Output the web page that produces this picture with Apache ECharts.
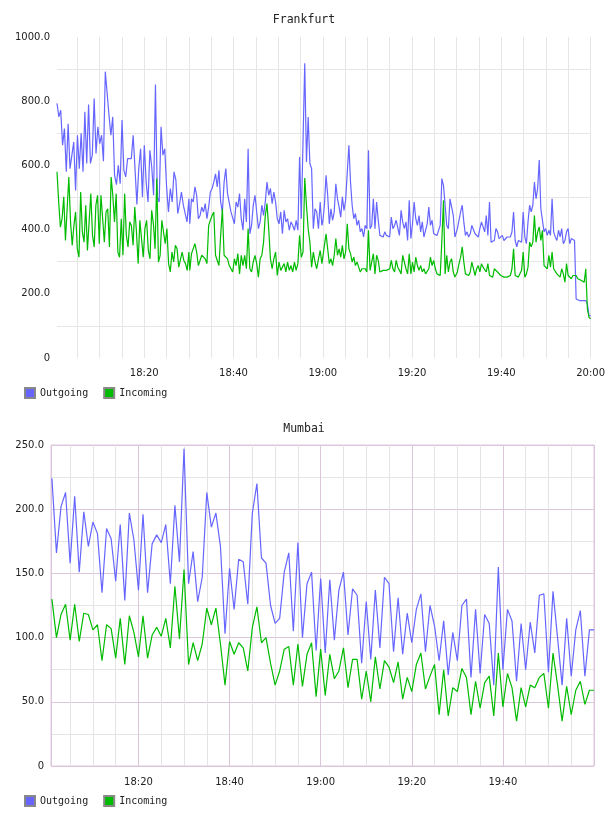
<!DOCTYPE html>
<html>
<head>
<meta charset="utf-8">
<script src="https://cdn.jsdelivr.net/npm/echarts@6/dist/echarts.min.js"></script>
<style>
  html, body { margin: 0; padding: 0; background: #fff; }
  #chart { width: 608px; height: 816px; }
</style>
</head>
<body>
<div id="chart"></div>
<script>
// x values are minutes after 18:00
const seriesNames = ['Outgoing', 'Incoming']
const colors = ['#6666ff', '#00bb00']

// Frankfurt: four half-hour pieces, [start, end] minute of each piece
const fraSegTimes = [[0.45, 30.0], [30.2, 59.8], [60.0, 89.6], [89.8, 120]]

const fraOut1800 = [793, 751, 772, 663, 715, 580, 730, 590, 590, 673,
  522, 694, 590, 700, 580, 767, 606, 790, 606, 632,
  808, 637, 720, 668, 694, 613, 892, 887, 756, 694,
  751, 569, 540, 600, 543, 741, 585, 564, 621, 626,
  621, 694, 590, 478, 590, 652, 502, 663, 548, 486,
  647, 595, 507, 852, 502, 486, 720, 632, 652, 533,
  455, 528, 486, 580, 554, 450, 481, 517, 476, 481,
  424, 496]
const fraOut1830 = [418, 496, 486, 533, 507, 434, 444, 470, 455, 481,
  434, 470, 517, 528, 548, 574, 533, 585, 486, 455,
  548, 590, 512, 507, 455, 457, 418, 486, 470, 512,
  434, 398, 496, 424, 652, 387, 413, 476, 507, 455,
  403, 424, 476, 444, 486, 548, 507, 528, 481, 517,
  486, 434, 418, 455, 387, 460, 424, 434, 398, 424,
  413, 398, 429, 398, 626, 434, 434, 918, 611, 751,
  606, 590, 403, 465, 455, 403, 486, 413]
const fraOut1900 = [424, 476, 569, 507, 418, 465, 429, 455, 543, 496,
  470, 439, 502, 460, 491, 486, 663, 548, 476, 434,
  450, 413, 429, 393, 403, 377, 413, 403, 647, 403,
  413, 496, 403, 486, 429, 382, 387, 377, 393, 382,
  387, 377, 439, 403, 413, 429, 434, 382, 460, 424,
  403, 424, 366, 491, 372, 418, 486, 434, 413, 444,
  393, 424, 377, 382, 418, 470, 413, 429, 387, 382,
  382, 387, 413, 559, 538, 476, 413, 403, 496, 470,
  444, 377]
const fraOut1930 = [378, 403, 403, 455, 476, 424, 382, 393, 377, 387,
  413, 418, 387, 387, 377, 403, 424, 429, 393, 444,
  382, 486, 361, 356, 366, 403, 393, 372, 377, 382,
  366, 372, 377, 372, 377, 393, 455, 366, 346, 366,
  366, 361, 455, 377, 356, 424, 476, 455, 476, 548,
  496, 528, 617, 465, 470, 393, 403, 382, 398, 382,
  496, 393, 377, 366, 398, 377, 403, 356, 366, 393,
  403, 356, 372, 372, 366, 184, 179, 179, 174, 179,
  174, 179, 169, 132, 132]

const fraIn1800 = [580, 486, 408, 434, 502, 366, 361, 564, 424, 351,
  413, 455, 340, 314, 517, 392, 361, 476, 335, 424,
  512, 382, 346, 476, 507, 356, 507, 507, 361, 455,
  465, 346, 564, 507, 424, 512, 330, 314, 434, 320,
  512, 382, 346, 424, 413, 351, 470, 392, 294, 429,
  434, 314, 403, 429, 335, 309, 460, 418, 340, 559,
  299, 320, 429, 434, 356, 403, 294, 268, 330, 299,
  351, 340, 283, 288, 330, 304, 294, 273, 330]
const fraIn1830 = [273, 325, 320, 356, 330, 288, 304, 320, 314, 309,
  294, 413, 429, 444, 455, 320, 325, 288, 382, 465,
  320, 314, 309, 288, 294, 268, 309, 288, 325, 262,
  320, 288, 320, 278, 403, 278, 268, 299, 320, 294,
  252, 309, 320, 361, 444, 481, 403, 309, 278, 309,
  330, 257, 299, 273, 278, 294, 268, 299, 273, 288,
  268, 299, 273, 294, 382, 314, 330, 561, 476, 403,
  361, 283, 330, 299, 278, 309, 335, 294]
const fraIn1900 = [294, 351, 387, 340, 294, 309, 288, 320, 372, 320,
  340, 314, 351, 309, 330, 418, 340, 325, 299, 314,
  288, 299, 283, 268, 278, 273, 278, 268, 398, 273,
  268, 325, 262, 320, 304, 268, 273, 273, 268, 273,
  268, 278, 304, 278, 268, 304, 283, 273, 262, 320,
  314, 278, 262, 325, 262, 299, 268, 314, 288, 273,
  288, 268, 278, 262, 268, 278, 314, 288, 304, 278,
  262, 268, 257, 366, 491, 262, 320, 268, 299, 309,
  268, 252]
const fraIn1930 = [252, 268, 294, 314, 346, 299, 262, 268, 257, 268,
  299, 294, 257, 278, 288, 268, 294, 283, 288, 268,
  294, 257, 262, 252, 278, 278, 268, 262, 257, 262,
  252, 257, 252, 257, 257, 278, 340, 257, 252, 252,
  257, 273, 330, 252, 262, 283, 361, 346, 361, 444,
  361, 392, 408, 366, 398, 288, 294, 278, 320, 283,
  330, 278, 283, 262, 268, 252, 278, 262, 236, 294,
  257, 262, 247, 257, 252, 257, 247, 252, 242, 247,
  236, 278, 153, 127, 122]

// Mumbai: one value a minute, first at 18:01
const mumStartMinute = 1
const mumOut = [224, 166, 202, 213, 158, 210, 151, 198, 171, 190,
  181, 135, 185, 177, 144, 188, 129, 197, 176, 137,
  196, 135, 173, 180, 174, 188, 142, 203, 159, 247,
  142, 167, 128, 147, 213, 186, 197, 171, 103, 154,
  122, 161, 159, 126, 197, 220, 162, 158, 125, 111,
  115, 151, 166, 105, 174, 100, 142, 151, 90, 146,
  88, 145, 98, 137, 151, 102, 138, 133, 80, 128,
  83, 137, 92, 147, 142, 89, 131, 87, 119, 96,
  122, 134, 89, 125, 109, 82, 113, 71, 104, 82,
  125, 130, 69, 122, 72, 118, 111, 63, 155, 75,
  122, 113, 66, 111, 75, 112, 88, 133, 134, 73,
  136, 100, 63, 115, 70, 106, 121, 70, 106, 106]
const mumIn = [130, 100, 118, 126, 98, 126, 97, 119, 118, 106,
  110, 82, 110, 107, 84, 115, 79, 117, 104, 85,
  117, 84, 102, 108, 101, 115, 92, 140, 99, 153,
  79, 96, 82, 95, 123, 110, 123, 95, 63, 97,
  87, 96, 92, 74, 108, 124, 96, 100, 80, 63,
  74, 91, 93, 63, 95, 62, 87, 96, 54, 91,
  55, 87, 68, 74, 92, 61, 83, 83, 52, 74,
  50, 85, 60, 82, 77, 65, 81, 52, 69, 58,
  79, 88, 60, 70, 79, 40, 75, 39, 61, 58,
  76, 69, 40, 66, 45, 65, 70, 39, 88, 46,
  72, 61, 35, 61, 46, 63, 61, 69, 72, 45,
  88, 63, 35, 62, 40, 59, 66, 48, 59, 59]

function joinSegments (segTimes, pieces) {
  const out = []
  pieces.forEach((vals, s) => {
    const [a, b] = segTimes[s]
    vals.forEach((v, i) => out.push([a + (b - a) * i / (vals.length - 1), v]))
  })
  return out
}

function perMinute (start, vals) {
  return vals.map((v, i) => [start + i, v])
}

function hhmm (v) {
  const m = Math.round(v)
  return (18 + Math.floor(m / 60)) + ':' + String(m % 60).padStart(2, '0')
}

const fraOut = joinSegments(fraSegTimes, [fraOut1800, fraOut1830, fraOut1900, fraOut1930])
const fraIn = joinSegments(fraSegTimes, [fraIn1800, fraIn1830, fraIn1900, fraIn1930])

const labelFont = { fontFamily: 'DejaVu Sans', fontSize: 10, color: '#222' }
const pink = '#dcc6dc'
const grey = '#e4e4e4'
const lineW = 1.2

const myChart = echarts.init(document.getElementById('chart'))
const option = {
  animation: false,
  backgroundColor: '#fff',
  title: [
    { text: 'Frankfurt', left: 'center', top: 14, padding: 0,
      textStyle: { fontFamily: 'DejaVu Sans Mono', fontSize: 11.5, fontWeight: 'normal', color: '#222' } },
    { text: 'Mumbai', left: 'center', top: 423, padding: 0,
      textStyle: { fontFamily: 'DejaVu Sans Mono', fontSize: 11.5, fontWeight: 'normal', color: '#222' } }
  ],
  legend: [
    { left: 24, top: 387, padding: 0, itemWidth: 10, itemHeight: 10, itemGap: 15, icon: 'rect',
      data: seriesNames, selectedMode: false,
      textStyle: { fontFamily: 'DejaVu Sans Mono', fontSize: 10, color: '#222' } },
    { left: 24, top: 795, padding: 0, itemWidth: 10, itemHeight: 10, itemGap: 15, icon: 'rect',
      data: seriesNames, selectedMode: false,
      textStyle: { fontFamily: 'DejaVu Sans Mono', fontSize: 10, color: '#222' } }
  ],
  grid: [
    { left: 57, right: 17, top: 37, height: 321, show: false },
    { left: 51, right: 14, top: 445, height: 321, show: true, borderColor: pink, borderWidth: 1, backgroundColor: '#fff' }
  ],
  xAxis: [
    {
      type: 'value', gridIndex: 0, min: 0.45, max: 120, splitNumber: 24,
      axisLine: { show: false }, axisTick: { show: false },
      axisLabel: Object.assign({ margin: 10, formatter: v => (Math.abs(v - Math.round(v)) < 1e-6 && v > 1 && Math.round(v) % 20 === 0) ? hhmm(v) : '' }, labelFont),
      splitLine: { show: true, showMinLine: false, lineStyle: { color: '#e6e6e6', width: 1 } }
    },
    {
      type: 'value', gridIndex: 1, min: 0.8, max: 120, splitNumber: 24,
      axisLine: { show: false }, axisTick: { show: false },
      axisLabel: Object.assign({ margin: 11, formatter: v => (Math.abs(v - Math.round(v)) < 1e-6 && v > 1 && v < 119.5 && Math.round(v) % 20 === 0) ? hhmm(v) : '' }, labelFont),
      splitLine: { show: true, lineStyle: { color: [pink, grey, grey, grey], width: 1 } }
    }
  ],
  yAxis: [
    {
      type: 'value', gridIndex: 0, min: 0, max: 1000, interval: 100,
      axisLine: { show: false }, axisTick: { show: false },
      axisLabel: Object.assign({ margin: 7, formatter: v => v % 200 === 0 ? (v === 0 ? '0' : v.toFixed(1)) : '' }, labelFont),
      splitLine: { show: true, lineStyle: { color: ['rgba(0,0,0,0)', '#e6e6e6'], width: 1 } }
    },
    {
      type: 'value', gridIndex: 1, min: 0, max: 250, interval: 25,
      axisLine: { show: false }, axisTick: { show: false },
      axisLabel: Object.assign({ margin: 7, formatter: v => v % 50 === 0 ? (v === 0 ? '0' : v.toFixed(1)) : '' }, labelFont),
      splitLine: { show: true, lineStyle: { color: [pink, grey], width: 1 } }
    }
  ],
  series: [
    { name: 'Outgoing', type: 'line', xAxisIndex: 0, yAxisIndex: 0, data: fraOut, showSymbol: false,
      lineStyle: { color: colors[0], width: lineW }, itemStyle: { color: colors[0], borderColor: '#888', borderWidth: 1 } },
    { name: 'Incoming', type: 'line', xAxisIndex: 0, yAxisIndex: 0, data: fraIn, showSymbol: false,
      lineStyle: { color: colors[1], width: lineW }, itemStyle: { color: colors[1], borderColor: '#888', borderWidth: 1 } },
    { name: 'Outgoing', type: 'line', xAxisIndex: 1, yAxisIndex: 1, data: perMinute(mumStartMinute, mumOut), showSymbol: false,
      lineStyle: { color: colors[0], width: lineW }, itemStyle: { color: colors[0], borderColor: '#888', borderWidth: 1 } },
    { name: 'Incoming', type: 'line', xAxisIndex: 1, yAxisIndex: 1, data: perMinute(mumStartMinute, mumIn), showSymbol: false,
      lineStyle: { color: colors[1], width: lineW }, itemStyle: { color: colors[1], borderColor: '#888', borderWidth: 1 } }
  ]
}
myChart.setOption(option)
</script>
</body>
</html>
